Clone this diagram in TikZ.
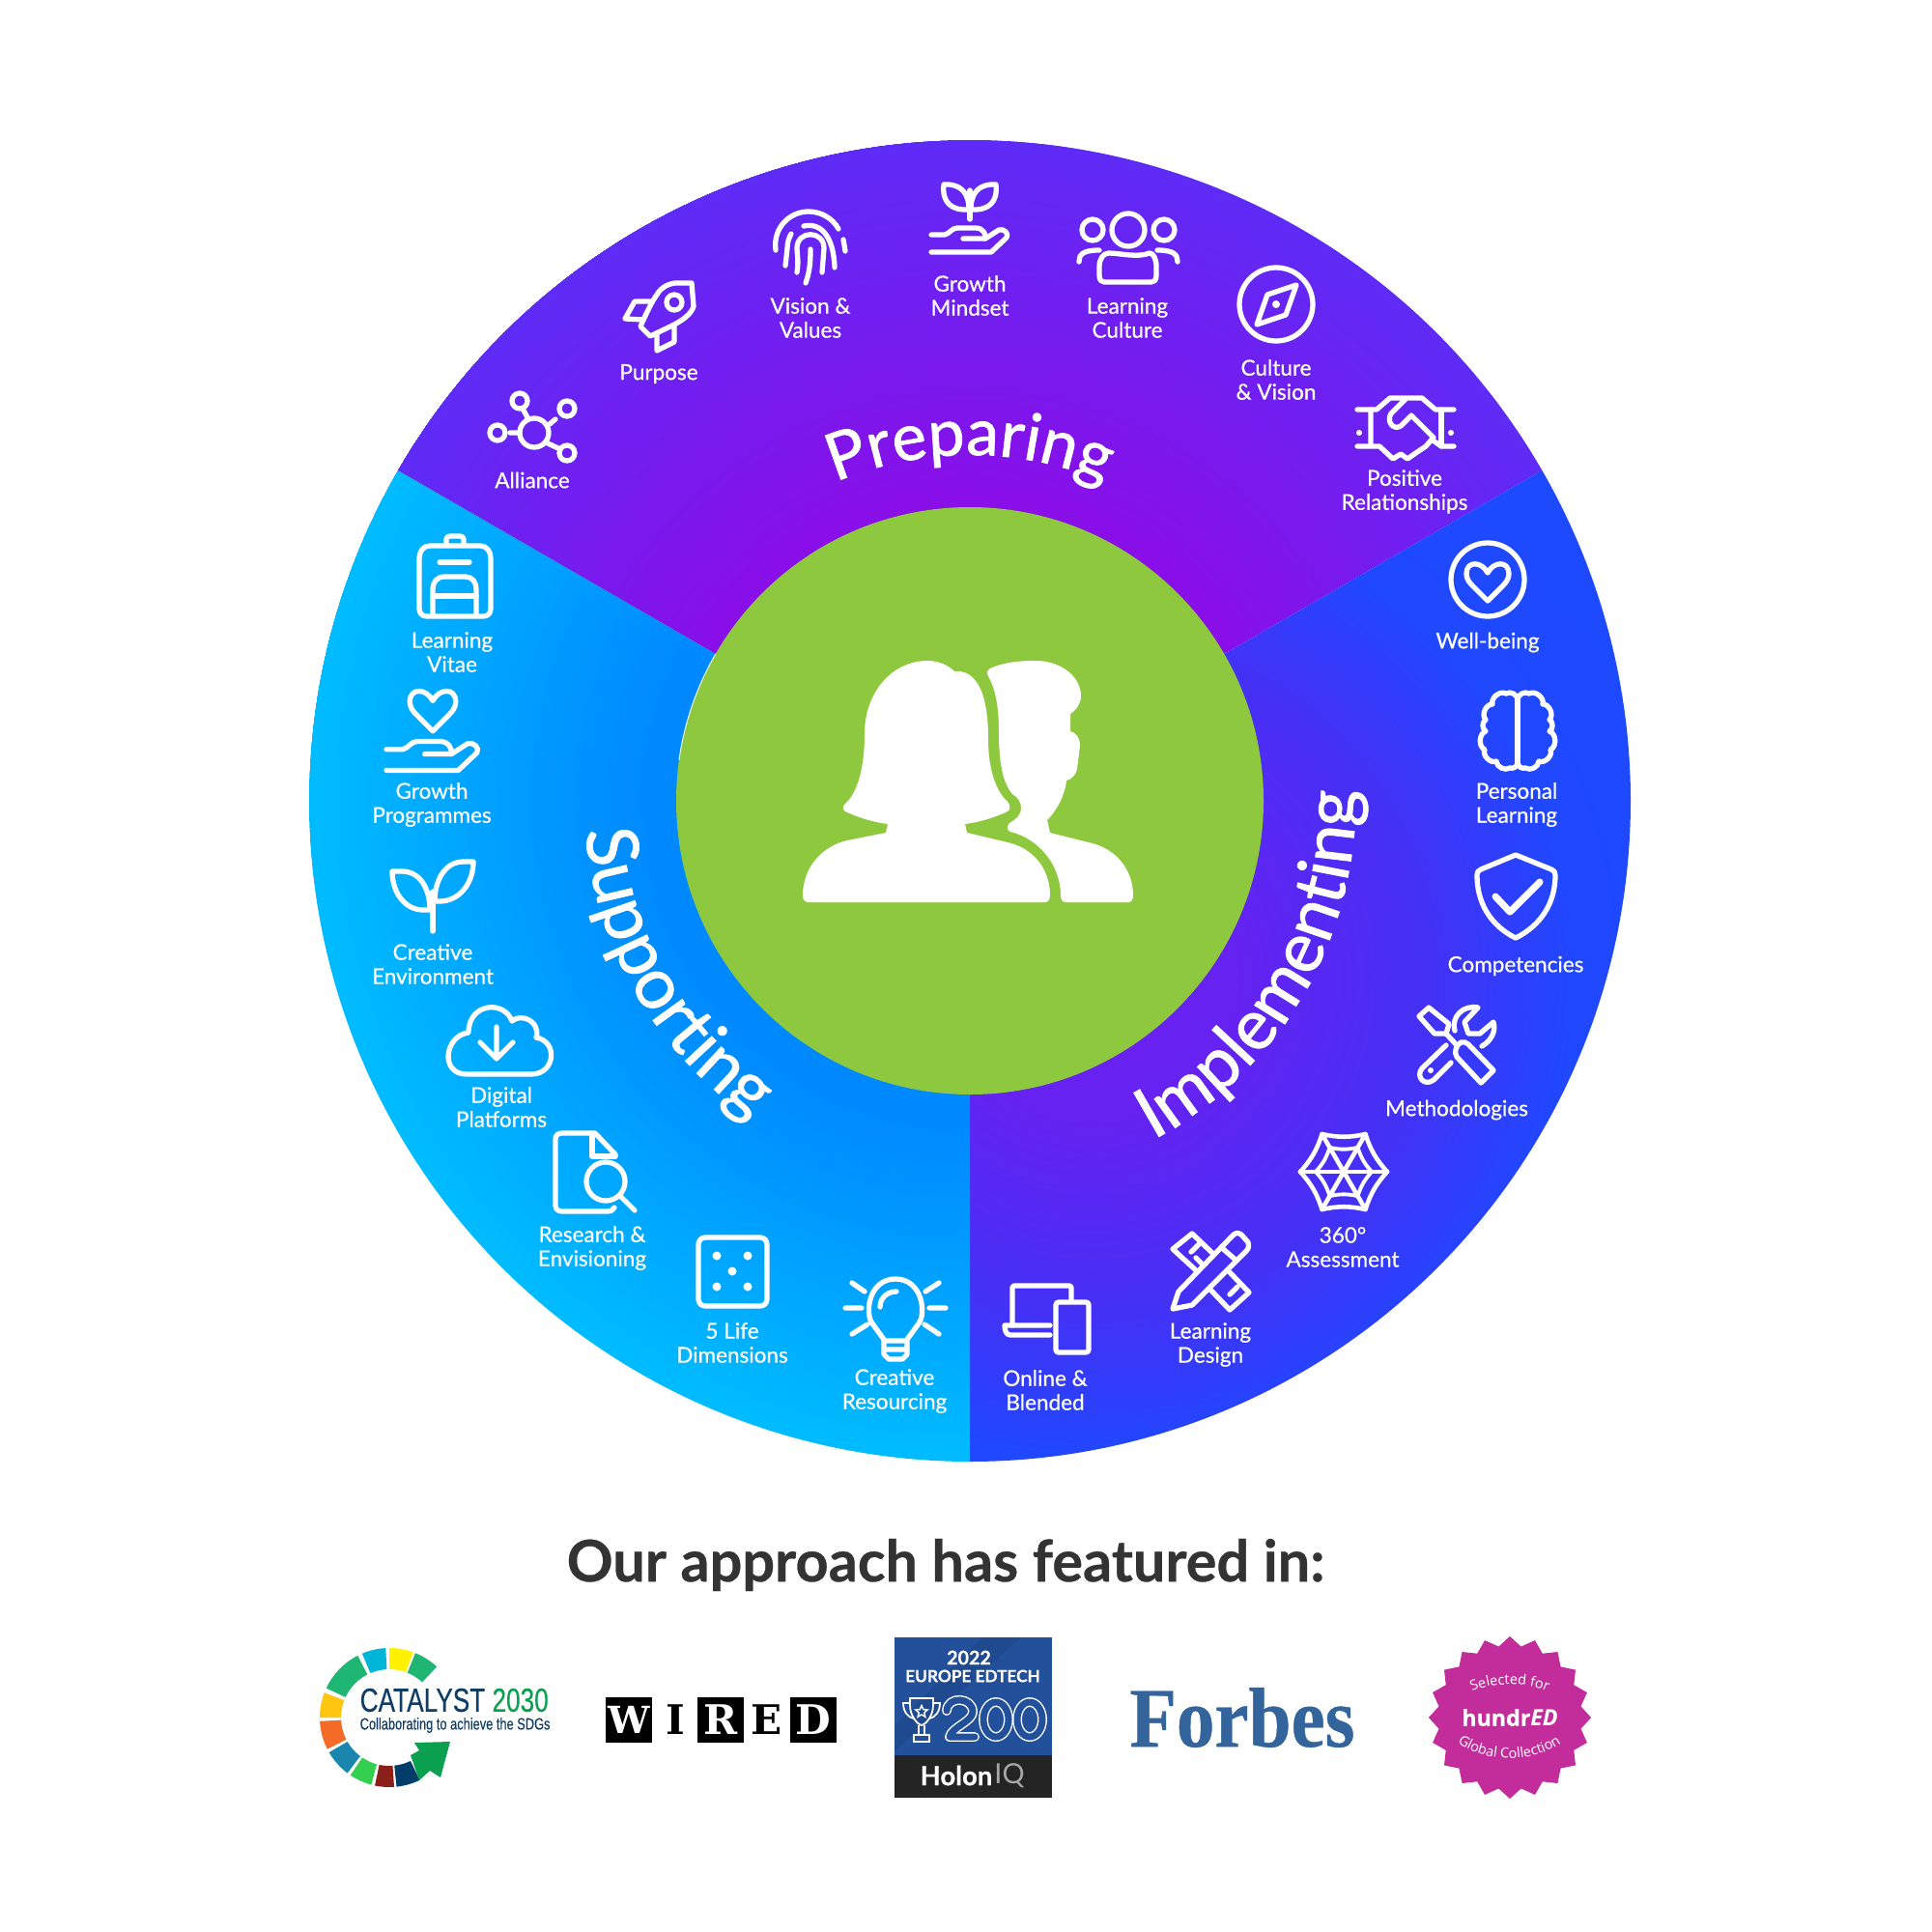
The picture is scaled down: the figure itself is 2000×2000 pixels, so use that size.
\documentclass[tikz,border=0pt]{standalone}
\usepackage{xcolor}
\usepackage{fontspec}
\usetikzlibrary{shapes.geometric,decorations.text}
\setmainfont{Lato}
\newfontfamily\labelfont[FakeBold=0.5]{Lato}
\newfontfamily\wheelfont[FakeBold=1.1]{Lato}
\newfontfamily\titlefont[BoldFeatures={FakeBold=0.5}]{Lato}
\newfontfamily\narrowfont[FakeStretch=0.76,FakeBold=0.3]{Liberation Sans}
\newfontfamily\slabfont{DejaVu Serif}
\newfontfamily\forbesfont[FakeStretch=0.9,BoldFeatures={FakeBold=0.5}]{Liberation Serif}
\newfontfamily\holonfont[BoldFeatures={FakeBold=0.4}]{Lato}
\newfontfamily\sealfont[BoldFeatures={FakeBold=0.5}]{Open Sans}
\definecolor{prepinner}{HTML}{8A0EE8}
\definecolor{prepouter}{HTML}{5E2BF6}
\definecolor{implA}{HTML}{6C20F0}
\definecolor{implB}{HTML}{6522F1}
\definecolor{implC}{HTML}{4431F6}
\definecolor{implD}{HTML}{1F48FF}
\definecolor{implE}{HTML}{1A4CFF}
\definecolor{suppinner}{HTML}{0088FF}
\definecolor{suppouter}{HTML}{00BCFF}
\definecolor{centregreen}{HTML}{8EC83F}
\definecolor{titlegrey}{HTML}{333333}
\definecolor{catnavy}{HTML}{0F3D66}
\definecolor{catgreen}{HTML}{0BA050}
\definecolor{holonblue}{HTML}{23509B}
\definecolor{holonband}{HTML}{1F4A8F}
\definecolor{holondark}{HTML}{242424}
\definecolor{forbesblue}{HTML}{33659C}
\definecolor{sealpink}{HTML}{C32D9B}
\pgfdeclareradialshading{prepfade}{\pgfpoint{0bp}{0bp}}{color(0bp)=(prepinner);color(86bp)=(prepinner);color(194bp)=(prepouter)}
\pgfdeclareradialshading{implfade}{\pgfpoint{0bp}{0bp}}{color(0bp)=(implA);color(42.5bp)=(implB);color(99bp)=(implC);color(142bp)=(implD);color(255bp)=(implE)}
\pgfdeclareradialshading{suppfade}{\pgfpoint{0bp}{0bp}}{color(0bp)=(suppinner);color(93bp)=(suppinner);color(194bp)=(suppouter)}
\tikzset{
  wheellabel/.style={white,font=\labelfont\fontsize{6.4}{7.1}\selectfont,align=center,inner sep=0pt},
  iconline/.style={draw=white,line width=1.5pt,line cap=round,line join=round},
  wiredblock/.style={fill=black,text=white,minimum width=0.47cm,minimum height=0.47cm,inner sep=0pt,font=\slabfont\bfseries\fontsize{12}{12}\selectfont},
  wiredopen/.style={black,inner sep=0pt,font=\slabfont\bfseries\fontsize{12}{12}\selectfont},
  holonoutline/.style={draw=white,line width=0.4pt,double=holonblue,double distance=2pt,line cap=round,line join=round},
  openhand/.pic={
    \draw[iconline] (-40,-6) -- (-26,-6) .. controls (-21,-7) and (-19,-13) .. (-13,-13) -- (6,-13)
      .. controls (14,-13) and (17,-6) .. (16,-2) -- (-7,-2);
    \draw[iconline] (16,-2) -- (30,-11) .. controls (35,-13) and (41,-7) .. (38,-3) -- (22,12) -- (-40,12);
  },
  heartline/.pic={
    \draw[iconline] (0,-7) .. controls (-6,-19) and (-22,-20) .. (-22,-6) .. controls (-22,-1) and (-19,3) .. (-16,6)
      -- (0,22) -- (16,6) .. controls (19,3) and (22,-1) .. (22,-6) .. controls (22,-20) and (6,-19) .. (0,-7) -- cycle;
  }
}
\begin{document}
\begin{tikzpicture}[x=0.01cm,y=-0.01cm]
  \useasboundingbox (0,0) rectangle (2000,2000);
  % wheel
  \begin{scope}[shift={(1004,829)},y=0.01cm]
    \begin{scope}
      \clip (0,0) -- (30:684) arc[start angle=30,end angle=150,radius=684] -- cycle;
      \node at (0,0) [inner sep=0pt] (prepfill) {\pgfuseshading{prepfade}};
    \end{scope}
    \begin{scope}
      \clip (0,0) -- (-90:684) arc[start angle=-90,end angle=30,radius=684] -- cycle;
      \node at (126,-181) [inner sep=0pt] (implfill) {\pgfuseshading{implfade}};
    \end{scope}
    \begin{scope}
      \clip (0,0) -- (150:684) arc[start angle=150,end angle=270,radius=684] -- cycle;
      \node at (0,0) [inner sep=0pt] (suppfill) {\pgfuseshading{suppfade}};
    \end{scope}
    \fill[centregreen] (0,0) circle[radius=304];
    \draw[white,line width=0.25pt] (150:304) arc[start angle=150,end angle=172,radius=304];
    \path[decorate,decoration={text along path,text align=center,text={|\wheelfont\fontsize{19.2}{19.2}\selectfont\color{white}|Preparing}}]
      (150:358) arc[start angle=150,end angle=30,radius=358];
    \path[decorate,decoration={text along path,text align=center,text={|\wheelfont\fontsize{20.8}{20.8}\selectfont\color{white}|Implementing}}]
      (-90:399) arc[start angle=-90,end angle=30,radius=399];
    \path[decorate,decoration={text along path,text align=center,text={|\wheelfont\fontsize{21}{21}\selectfont\color{white}|Supporting}}]
      (150:399) arc[start angle=150,end angle=270,radius=399];
  \end{scope}
  % people
  \fill[white] (837,934) .. controls (833,934) and (831,931) .. (831,927)
    .. controls (831,898) and (851,876) .. (877,870) -- (917,862) -- (919,853)
    .. controls (903,851) and (888,846) .. (875,840) .. controls (872,838) and (872,835) .. (875,832)
    .. controls (888,820) and (895,795) .. (895,760)
    .. controls (895,715) and (925,684) .. (960,684)
    .. controls (972,684) and (982,689) .. (988,695)
    .. controls (1008,693) and (1023,712) .. (1023,765)
    .. controls (1023,795) and (1030,818) .. (1043,830) .. controls (1046,833) and (1046,838) .. (1043,840)
    .. controls (1030,846) and (1015,851) .. (999,853) -- (1001,862) -- (1043,872)
    .. controls (1070,878) and (1087,900) .. (1087,927) .. controls (1087,931) and (1085,934) .. (1082,934) -- cycle;
  \fill[white] (1103,934) .. controls (1100,934) and (1098,931) .. (1098,927)
    .. controls (1098,895) and (1075,868) .. (1046,861) .. controls (1042,860) and (1042,855) .. (1045,852)
    .. controls (1052,848) and (1057,844) .. (1057,836) .. controls (1057,830) and (1053,825) .. (1048,822)
    .. controls (1038,810) and (1034,790) .. (1034,757) .. controls (1034,730) and (1030,712) .. (1023,700)
    .. controls (1021,696) and (1022,694) .. (1025,692)
    .. controls (1040,685) and (1058,684) .. (1072,684) .. controls (1100,684) and (1119,702) .. (1119,720)
    .. controls (1119,728) and (1115,734) .. (1108,739) -- (1108,757)
    .. controls (1114,758) and (1118,764) .. (1118,772) -- (1115,796) .. controls (1114,802) and (1109,807) .. (1104,808)
    .. controls (1102,825) and (1093,840) .. (1084,849) -- (1087,862) -- (1127,872)
    .. controls (1155,878) and (1173,900) .. (1173,927) .. controls (1173,931) and (1171,934) .. (1168,934) -- cycle;
  % labels
  \node at (551,497) [wheellabel] (alliance) {Alliance};
  \node at (682,387) [wheellabel] (purpose) {Purpose};
  \node at (839,329) [wheellabel] (vision) {Vision \&\\Values};
  \node at (1004,306) [wheellabel] (mindset) {Growth\\Mindset};
  \node at (1167,329) [wheellabel] (culture) {Learning\\Culture};
  \node at (1321,393) [wheellabel] (compass) {Culture\\\& Vision};
  \node at (1454,509) [wheellabel] (positive) {Positive\\Relationships};
  \node at (1540,665) [wheellabel] (wellbeing) {Well-being};
  \node at (1570,833) [wheellabel] (personal) {Personal\\Learning};
  \node at (1569,1000) [wheellabel] (competencies) {Competencies};
  \node at (1508,1149) [wheellabel] (methodologies) {Methodologies};
  \node at (1390,1291) [wheellabel] (assessment) {360°\\Assessment};
  \node at (1253,1392) [wheellabel] (design) {Learning\\Design};
  \node at (1082,1439) [wheellabel] (blended) {Online \&\\Blended};
  \node at (926,1440) [wheellabel] (resourcing) {Creative\\Resourcing};
  \node at (758,1390) [wheellabel] (dimensions) {5 Life\\Dimensions};
  \node at (613,1292) [wheellabel] (research) {Research \&\\Envisioning};
  \node at (519,1146) [wheellabel] (platforms) {Digital\\Platforms};
  \node at (448,998) [wheellabel] (environment) {Creative\\Environment};
  \node at (447,833) [wheellabel] (programmes) {Growth\\Programmes};
  \node at (468,675) [wheellabel] (vitae) {Learning\\Vitae};
  % alliance
  \draw[iconline] (553,448) circle[radius=15] (538,415) circle[radius=8] (587,423) circle[radius=8]
    (515,448) circle[radius=8] (587,469) circle[radius=8];
  \draw[iconline] (547,434) -- (541,423) (569,439) -- (575,434) (535,448) -- (528,448) (565,458) -- (580,465);
  % purpose
  \draw[iconline] (663,338) .. controls (670,322) and (675,312) .. (680,305) .. controls (685,296) and (695,293) .. (700,293)
    -- (716,293) -- (718,317) .. controls (716,325) and (706,332) .. (696,337) -- (673,348) -- cycle;
  \draw[iconline] (698,313) circle[radius=8];
  \draw[iconline] (673,312) -- (657,312) -- (647,330) -- (666,331);
  \draw[iconline] (698,338) -- (698,354) -- (680,363) -- (680,347);
  % vision
  \draw[iconline] (803,259) .. controls (800,235) and (818,219) .. (837,219) .. controls (850,219) and (862,226) .. (868,237);
  \draw[iconline] (873,248) -- (875,260);
  \draw[iconline] (813,275) -- (815,257) .. controls (815,250) and (817,246) .. (819,242);
  \draw[iconline] (832,234) .. controls (850,230) and (863,245) .. (864,277);
  \draw[iconline] (825,282) .. controls (827,270) and (825,262) .. (825,257) .. controls (825,238) and (853,238) .. (853,257)
    -- (851,282);
  \draw[iconline] (839,258) .. controls (839,272) and (838,282) .. (834,293);
  % mindset
  \draw[iconline] (1004,197) -- (1004,227);
  \draw[iconline] (977,191) .. controls (995,190) and (1003,200) .. (1003,217) .. controls (985,218) and (975,210) .. (977,191) -- cycle;
  \draw[iconline] (1031,191) .. controls (1013,190) and (1005,200) .. (1005,217) .. controls (1023,218) and (1033,210) .. (1031,191) -- cycle;
  \pic at (1004,249) {openhand};
  % learning culture
  \draw[iconline] (1168,238) circle[radius=17] (1131,238) circle[radius=11] (1205,238) circle[radius=11];
  \draw[iconline] (1138,285) -- (1138,276) .. controls (1138,268) and (1142,262) .. (1148,262) .. controls (1158,262) and (1178,267) .. (1190,262)
    .. controls (1194,262) and (1197,268) .. (1197,276) -- (1197,285) .. controls (1197,290) and (1195,292) .. (1192,292) -- (1143,292) .. controls (1140,292) and (1138,290) .. (1138,285) -- cycle;
  \draw[iconline] (1117,271) .. controls (1117,264) and (1120,259) .. (1138,259);
  \draw[iconline] (1219,271) .. controls (1219,264) and (1216,259) .. (1198,259);
  % compass
  \draw[iconline] (1321,315) circle[radius=38];
  \draw[iconline] (1342,295) -- (1312,305) -- (1301,336) -- (1331,326) -- cycle;
  \fill[white] (1321,315) circle[radius=4];
  % handshake
  \draw[iconline] (1405,424) -- (1425,424) -- (1439,412) -- (1472,412) -- (1486,424) -- (1505,424);
  \draw[iconline] (1419,424) -- (1419,462) (1405,462) -- (1419,462) -- (1428,462) -- (1442,475) -- (1450,470) -- (1457,475) -- (1467,468) -- (1476,462) -- (1482,455) -- (1492,462) -- (1505,462);
  \draw[iconline] (1492,424) -- (1492,462);
  \draw[iconline] (1455,413) -- (1440,428) .. controls (1435,436) and (1442,446) .. (1450,441) -- (1461,430) -- (1484,453);
  \fill[white] (1407,448) circle[radius=3] (1502,448) circle[radius=3];
  % well-being
  \draw[iconline] (1540,600) circle[radius=38];
  \pic at (1540,600) {heartline};
  % brain
  \draw[iconline] (1571,722) -- (1571,790);
  \draw[iconline] (1571,724) to[bend right=60] (1559,718) to[bend right=70] (1545,729) to[bend right=70] (1538,745) to[bend right=60] (1538,757)
    to[bend right=70] (1537,776) to[bend right=70] (1549,788) to[bend right=60] (1563,795) to[bend right=50] (1571,790);
  \draw[iconline] (1571,724) to[bend left=60] (1583,718) to[bend left=70] (1597,729) to[bend left=70] (1604,745) to[bend left=60] (1604,757)
    to[bend left=70] (1605,776) to[bend left=70] (1593,788) to[bend left=60] (1579,795) to[bend left=50] (1571,790);
  % shield
  \draw[iconline] (1569,885) -- (1606,900) .. controls (1609,901) and (1610,903) .. (1610,906)
    .. controls (1610,935) and (1595,958) .. (1569,971) .. controls (1543,958) and (1529,935) .. (1529,906)
    .. controls (1529,903) and (1530,901) .. (1533,900) -- cycle;
  \draw[iconline,line width=2pt] (1548,928) -- (1563,944) -- (1594,913);
  % methodologies
  \draw[iconline] (1479,1043) -- (1469,1052) -- (1485,1070) -- (1497,1070) -- (1500,1060) -- cycle;
  \draw[iconline] (1497,1070) -- (1508,1082);
  \draw[iconline] (1512,1079) .. controls (1515,1078) and (1518,1079) .. (1520,1081) -- (1546,1108) -- (1533,1121) -- (1508,1094) .. controls (1505,1089) and (1507,1083) .. (1512,1079) -- cycle;
  \draw[iconline] (1497,1082) -- (1472,1106) .. controls (1465,1115) and (1475,1125) .. (1484,1118) -- (1502,1100);
  \fill[white] (1481,1108) circle[radius=3];
  \draw[iconline] (1506,1067) .. controls (1502,1052) and (1515,1040) .. (1530,1043) -- (1516,1058) -- (1520,1070) -- (1532,1070) -- (1546,1058)
    .. controls (1549,1068) and (1543,1078) .. (1534,1083);
  % 360 assessment
  \begin{scope}[shift={(1391,1213)}]
    \foreach \a [evaluate=\a as \b using \a+60] in {0,60,...,300} {
      \draw[iconline,line width=1.3pt] (0,0) -- (\a:45);
      \draw[iconline,line width=1.3pt] (\a:45) to[bend right=12] (\b:45);
      \draw[iconline,line width=1.1pt] (\a:29) to[bend right=12] (\b:29);
    }
  \end{scope}
  % learning design
  \draw[iconline] (1214,1355) -- (1220,1337) -- (1277,1278) .. controls (1280,1276) and (1282,1276) .. (1285,1278) -- (1292,1286) .. controls (1293,1289) and (1293,1291) .. (1291,1294) -- (1234,1351) -- cycle;
  \draw[iconline] (1264,1291) -- (1280,1305);
  \draw[iconline] (1238,1315) -- (1214,1293) -- (1234,1277) -- (1255,1297);
  \draw[iconline] (1233,1296) -- (1241,1288) (1244,1308) -- (1238,1302);
  \draw[iconline] (1273,1317) -- (1293,1338) -- (1273,1356) -- (1253,1335);
  \draw[iconline] (1273,1340) -- (1281,1332);
  % online and blended
  \draw[iconline] (1048,1372) -- (1048,1333) .. controls (1048,1332) and (1049,1331) .. (1050,1331) -- (1107,1331) .. controls (1108,1331) and (1109,1332) .. (1109,1333) -- (1109,1345);
  \draw[iconline] (1087,1372) -- (1040,1372) .. controls (1040,1378) and (1042,1382) .. (1046,1382) -- (1087,1382);
  \draw[iconline,rounded corners=0.8pt] (1093,1348) rectangle (1127,1400);
  % resourcing
  \draw[iconline] (903,1370) .. controls (895,1360) and (899,1324) .. (927,1324) .. controls (955,1324) and (959,1360) .. (951,1370)
    -- (938,1388) -- (916,1388) -- cycle;
  \draw[iconline] (915,1388) -- (915,1402) -- (920,1407) -- (934,1407) -- (939,1402) -- (939,1388) (916,1397) -- (938,1397);
  \draw[iconline] (911,1353) .. controls (911,1344) and (918,1337) .. (928,1337);
  \draw[iconline] (882,1328) -- (895,1337) (875,1354) -- (892,1354) (882,1381) -- (898,1371)
    (972,1328) -- (958,1337) (962,1354) -- (979,1354) (957,1371) -- (972,1381);
  % life dimensions
  \draw[iconline,rounded corners=2pt] (723,1281) rectangle (794,1352);
  \fill[white] (742,1300) circle[radius=4.5] (774,1300) circle[radius=4.5] (758,1316) circle[radius=4.5]
    (742,1332) circle[radius=4.5] (774,1332) circle[radius=4.5];
  % research
  \draw[iconline] (637,1197) -- (637,1195) -- (616,1173) -- (582,1173) .. controls (578,1173) and (575,1175) .. (575,1179) -- (575,1248)
    .. controls (575,1252) and (578,1254) .. (582,1254) -- (628,1254) .. controls (632,1254) and (635,1253) .. (636,1250);
  \draw[iconline] (613,1175) -- (613,1197) -- (637,1197);
  \draw[iconline] (627,1223) circle[radius=20];
  \draw[iconline] (642,1238) -- (657,1253);
  % platforms
  \draw[iconline] (483,1112) -- (550,1112) .. controls (575,1112) and (578,1078) .. (555,1074) .. controls (560,1058) and (540,1048) .. (530,1057)
    .. controls (522,1035) and (485,1038) .. (485,1069) .. controls (460,1072) and (455,1112) .. (483,1112) -- cycle;
  \draw[iconline] (514,1063) -- (514,1096) (497,1079) -- (514,1096) -- (531,1079);
  % environment
  \draw[iconline] (448,923) -- (448,964);
  \draw[iconline] (406,902) -- (416,902) .. controls (435,902) and (445,920) .. (445,942) -- (438,942) .. controls (420,942) and (406,925) .. (406,902) -- cycle;
  \draw[iconline] (490,892) -- (480,892) .. controls (460,892) and (450,912) .. (450,933) -- (455,933) .. controls (475,933) and (490,915) .. (490,892) -- cycle;
  % programmes
  \pic[scale=1.08] at (448,733) {heartline};
  \pic[scale=1.2] at (448,783) {openhand};
  % vitae
  \draw[iconline] (445,565) -- (497,565) .. controls (504,565) and (508,571) .. (508,578) -- (508,630) .. controls (508,635) and (505,638) .. (500,638)
    -- (442,638) .. controls (437,638) and (434,635) .. (434,630) -- (434,578) .. controls (434,571) and (438,565) .. (445,565) -- cycle;
  \draw[iconline] (462,563) -- (462,558) .. controls (462,556) and (464,555) .. (466,555) -- (476,555) .. controls (478,555) and (480,556) .. (480,558) -- (480,563);
  \draw[iconline] (455,582) -- (486,582);
  \draw[iconline] (448,637) -- (448,610) .. controls (448,603) and (452,597) .. (460,597) -- (482,597) .. controls (489,597) and (493,603) .. (493,610) -- (493,637);
  \draw[iconline] (448,617) -- (493,617);
  % heading
  \node at (979,1620) [font=\titlefont\bfseries\fontsize{16.9}{16.9}\selectfont,titlegrey,inner sep=0pt] (heading) {Our approach has featured in:};
  % catalyst logo
  \begin{scope}[shift={(403,1778)},y=0.01cm]
    \foreach \angA/\angB/\segcol in {47/68/21B573,70/90/FFF200,93/113/00B5D8,117/155/1FB573,159/180/FFC60F,
      183/207/F36B26,210/233/1A86AD,236/255/33CF4F,258/274/8B1F1A,276/296/003D6B} {
      \definecolor{segtint}{HTML}{\segcol}
      \fill[segtint] (\angA:72) arc[start angle=\angA,end angle=\angB,radius=72] -- (\angB:50) arc[start angle=\angB,end angle=\angA,radius=50] -- cycle;
    }
  \end{scope}
  \fill[catgreen] (466,1803) -- (429,1804) -- (434,1812) -- (425,1817) -- (434,1843) -- (445,1833) -- (456,1840) -- cycle;
  \node at (372,1760) [anchor=west,inner sep=0pt,font=\narrowfont\fontsize{9.8}{9.8}\selectfont] (catalyst) {\textcolor{catnavy}{CATALYST} \textcolor{catgreen}{2030}};
  \node at (372,1786) [anchor=west,inner sep=0pt,catnavy,font=\narrowfont\fontsize{4.8}{4.8}\selectfont] (catalysttag) {Collaborating to achieve the SDGs};
  % wired logo
  \node at (651,1780) [wiredblock,minimum width=0.48cm,font=\slabfont\bfseries\fontsize{11}{11}\selectfont] (wiredw) {W};
  \node at (699,1780) [wiredopen] (wiredi) {I};
  \node at (746,1780) [wiredblock] (wiredr) {R};
  \node at (794,1780) [wiredopen] (wirede) {E};
  \node at (842,1780) [wiredblock] (wiredd) {D};
  % holon badge
  \fill[holonblue] (926,1695) rectangle (1089,1817);
  \fill[holonband] (1017,1695) -- (1057,1695) -- (926,1813) -- (926,1787) -- cycle;
  \fill[holondark] (926,1817) rectangle (1089,1861);
  \node at (1003,1716) [white,inner sep=0pt,font=\holonfont\bfseries\fontsize{5.6}{5.6}\selectfont] (holonyear) {2022};
  \node at (1007,1735) [white,inner sep=0pt,font=\holonfont\bfseries\fontsize{4.9}{4.9}\selectfont] (holonregion) {EUROPE EDTECH};
  \draw[holonoutline] (980,1771) .. controls (981,1755) and (1007,1757) .. (1007,1772) .. controls (1007,1782) and (985,1788) .. (983,1798) -- (1009,1798);
  \draw[holonoutline] (1031,1780) circle[x radius=13,y radius=18];
  \draw[holonoutline] (1066,1780) circle[x radius=13,y radius=18];
  \draw[white,line width=0.5pt] (942,1758) -- (966,1758) -- (966,1765) .. controls (966,1777) and (958,1785) .. (954,1786) .. controls (950,1785) and (942,1777) .. (942,1765) -- cycle;
  \draw[white,line width=0.5pt] (942,1763) -- (935,1763) .. controls (935,1772) and (940,1778) .. (946,1779) (966,1763) -- (973,1763) .. controls (973,1772) and (968,1778) .. (962,1779);
  \draw[white,line width=0.5pt] (951,1786) -- (951,1796) (957,1786) -- (957,1796) (946,1796) rectangle (962,1803);
  \node at (954,1772) [star,star points=5,star point ratio=2.2,minimum size=0.13cm,inner sep=0pt,draw=white,line width=0.4pt] (holonstar) {};
  \node at (990,1838) [white,inner sep=0pt,font=\holonfont\bfseries\fontsize{7.8}{7.8}\selectfont] (holonname) {Holon};
  \node at (1045,1838) [gray!70,inner sep=0pt,font=\holonfont\fontsize{8.2}{8.2}\selectfont] (holoniq) {IQ};
  % forbes logo
  \node at (1286,1778) [forbesblue,inner sep=0pt,font=\forbesfont\bfseries\fontsize{25}{25}\selectfont] (forbes) {Forbes};
  % hundred seal
  \node at (1563,1778) [star,star points=20,star point ratio=1.13,minimum size=1.68cm,inner sep=0pt,fill=sealpink] (seal) {};
  \path[decorate,decoration={text along path,text align=center,text={|\sealfont\fontsize{4.1}{4.1}\selectfont\color{white}|Selected for}}]
    (1519,1754) .. controls (1540,1740) and (1586,1740) .. (1607,1754);
  \path[decorate,decoration={text along path,text align=center,text={|\sealfont\fontsize{4.1}{4.1}\selectfont\color{white}|Global Collection}}]
    (1503,1800) .. controls (1535,1827) and (1590,1827) .. (1622,1800);
  \node at (1563,1778) [white,inner sep=0pt,font=\sealfont\bfseries\fontsize{6.6}{6.6}\selectfont] (hundred) {hundr\textit{ED}};
\end{tikzpicture}
\end{document}
